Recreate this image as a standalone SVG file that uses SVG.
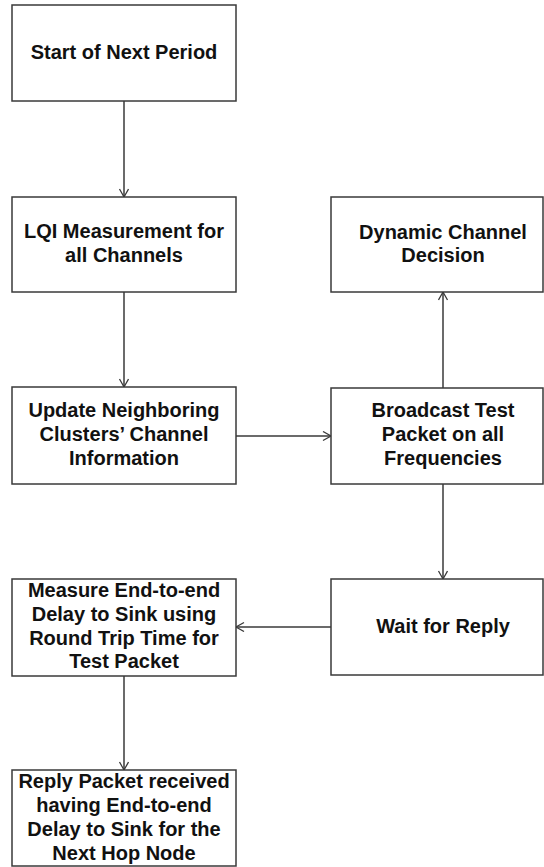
<svg xmlns="http://www.w3.org/2000/svg" width="544" height="867" viewBox="0 0 544 867">
<style>
.box{fill:#fff;stroke:#3a3a3a;stroke-width:1.5}
.t{font-family:"Liberation Sans",Arial,sans-serif;font-weight:bold;font-size:20px;fill:#111;text-anchor:middle}
.c{fill:none;stroke:#3a3a3a;stroke-width:1.5}
</style>
<defs>
<marker id="ah" markerUnits="userSpaceOnUse" markerWidth="12" markerHeight="12" refX="9" refY="5" orient="auto">
<path d="M1,0.5 L9,5 L1,9.5" fill="none" stroke="#3a3a3a" stroke-width="1.3"/>
</marker>
</defs>
<rect width="544" height="867" fill="#fff"/>
<g id="connectors">
<line class="c" x1="124" y1="101" x2="124" y2="197" marker-end="url(#ah)"/>
<line class="c" x1="124" y1="292" x2="124" y2="387" marker-end="url(#ah)"/>
<line class="c" x1="236" y1="436" x2="331" y2="436" marker-end="url(#ah)"/>
<line class="c" x1="443" y1="388" x2="443" y2="292" marker-end="url(#ah)"/>
<line class="c" x1="443" y1="484" x2="443" y2="579" marker-end="url(#ah)"/>
<line class="c" x1="331" y1="627" x2="236" y2="627" marker-end="url(#ah)"/>
<line class="c" x1="124" y1="676" x2="124" y2="770" marker-end="url(#ah)"/>
</g>
<g id="start">
<rect class="box" x="12" y="5" width="224" height="96"/>
<text class="t" x="124" y="59">Start of Next Period</text>
</g>
<g id="lqi">
<rect class="box" x="12" y="197" width="224" height="95"/>
<text class="t" x="124" y="238">LQI Measurement for</text>
<text class="t" x="124" y="262">all Channels</text>
</g>
<g id="update">
<rect class="box" x="12" y="387" width="224" height="97"/>
<text class="t" x="124" y="417">Update Neighboring</text>
<text class="t" x="124" y="441">Clusters’ Channel</text>
<text class="t" x="124" y="465">Information</text>
</g>
<g id="measure">
<rect class="box" x="12" y="579" width="224" height="97"/>
<text class="t" x="124" y="597">Measure End-to-end</text>
<text class="t" x="124" y="621">Delay to Sink using</text>
<text class="t" x="124" y="645">Round Trip Time for</text>
<text class="t" x="124" y="668">Test Packet</text>
</g>
<g id="reply">
<rect class="box" x="12" y="770" width="224" height="96"/>
<text class="t" x="124" y="788">Reply Packet received</text>
<text class="t" x="124" y="812">having End-to-end</text>
<text class="t" x="124" y="836">Delay to Sink for the</text>
<text class="t" x="124" y="860">Next Hop Node</text>
</g>
<g id="dynamic">
<rect class="box" x="331" y="197" width="212" height="95"/>
<text class="t" x="443" y="239">Dynamic Channel</text>
<text class="t" x="443" y="262">Decision</text>
</g>
<g id="broadcast">
<rect class="box" x="331" y="388" width="212" height="96"/>
<text class="t" x="443" y="417">Broadcast Test</text>
<text class="t" x="443" y="441">Packet on all</text>
<text class="t" x="443" y="465">Frequencies</text>
</g>
<g id="wait">
<rect class="box" x="331" y="579" width="212" height="96"/>
<text class="t" x="443" y="633">Wait for Reply</text>
</g>
</svg>
